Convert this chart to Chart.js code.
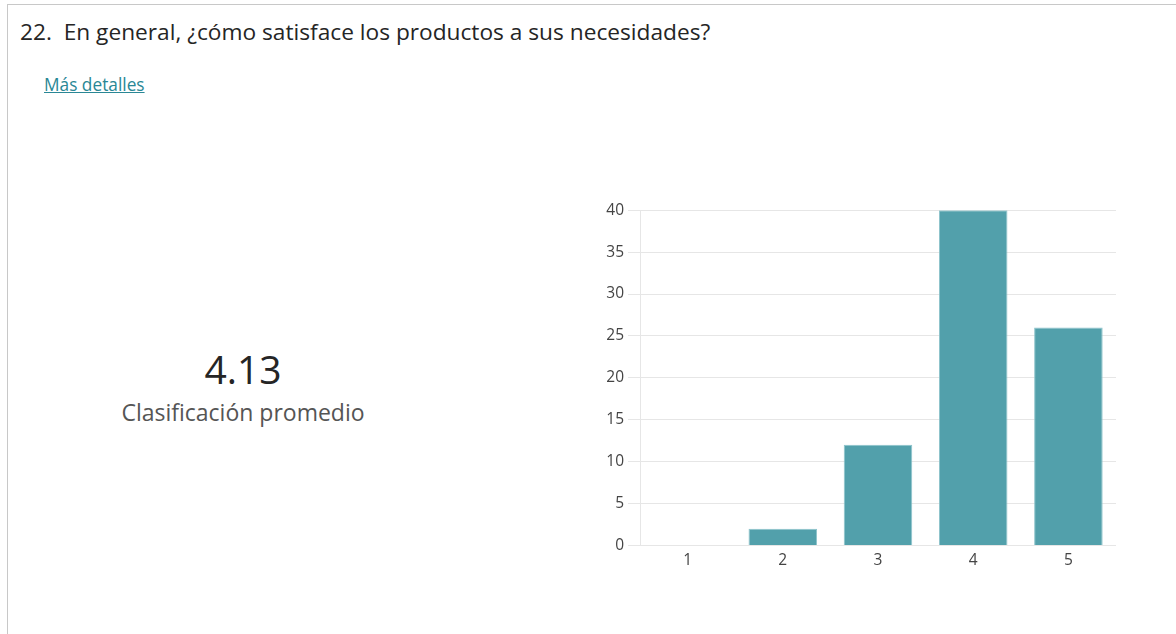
<!DOCTYPE html>
<html>
<head>
<meta charset="utf-8">
<script src="https://cdn.jsdelivr.net/npm/chart.js@4"></script>
<style>
  html, body { margin: 0; padding: 0; background: #fff; }
  body { width: 1176px; height: 634px; position: relative; overflow: hidden;
         font-family: "Segoe UI", "Open Sans", sans-serif; }
  .frame { position: absolute; left: 7px; top: 4px; width: 1180px; height: 640px;
           border-left: 1px solid #c8c8c8; border-top: 1px solid #c8c8c8; }
  .title { position: absolute; left: 20px; top: 16px; font-size: 22.7px; color: #252525; white-space: nowrap; }
  .more { position: absolute; left: 44px; top: 73px; font-size: 17.3px; color: #2a8795;
          text-decoration: underline; }
  .avg { position: absolute; left: 93px; width: 300px; text-align: center; top: 342px;
         font-size: 39px; color: #252525; }
  .avgLabel { position: absolute; left: 93px; width: 300px; text-align: center; top: 396px;
              font-size: 23px; color: #555; }
  .chartBox { position: absolute; left: 580px; top: 197px; width: 540px; height: 371px; }
</style>
</head>
<body>
<div class="frame"></div>
<div class="title">22.&nbsp; En general, ¿cómo satisface los productos a sus necesidades?</div>
<div class="more">Más detalles</div>
<div class="avg">4.13</div>
<div class="avgLabel">Clasificación promedio</div>
<div class="chartBox"><canvas id="barChart"></canvas></div>
<script>
var ratingLabels = ['1', '2', '3', '4', '5'];
var ratingCounts = [0, 2, 12, 40, 26];
var yTicks = [0, 5, 10, 15, 20, 25, 30, 35, 40];

var ctx = document.getElementById('barChart').getContext('2d');
var barChart = new Chart(ctx, {
    type: 'bar',
    data: {
        labels: ratingLabels,
        datasets: [{
            label: 'Respuestas',
            data: ratingCounts,
            backgroundColor: '#52a0ab',
            borderColor: '#8cc3cb',
            borderWidth: 1,
            barPercentage: 0.9,
            categoryPercentage: 0.8
        }]
    },
    options: {
        responsive: true,
        maintainAspectRatio: false,
        animation: false,
        layout: { padding: { right: 4, top: 0 } },
        plugins: {
            legend: { display: false },
            tooltip: { enabled: false }
        },
        scales: {
            x: {
                grid: { display: false },
                border: { display: false },
                ticks: { color: '#444', font: { family: '"Segoe UI", "Open Sans", sans-serif', size: 15.5 }, padding: -2 }
            },
            y: {
                min: 0,
                max: 40,
                afterFit: function(scale){ scale.width = 60; },
                afterBuildTicks: function(scale){
                    scale.ticks = yTicks.map(function(v){ return { value: v }; });
                },
                grid: { color: '#e6e6e6', tickLength: 12 },
                border: { color: '#e6e6e6' },
                ticks: { color: '#444', font: { family: '"Segoe UI", "Open Sans", sans-serif', size: 15.5 }, padding: 4 }
            }
        }
    }
});
</script>
</body>
</html>
